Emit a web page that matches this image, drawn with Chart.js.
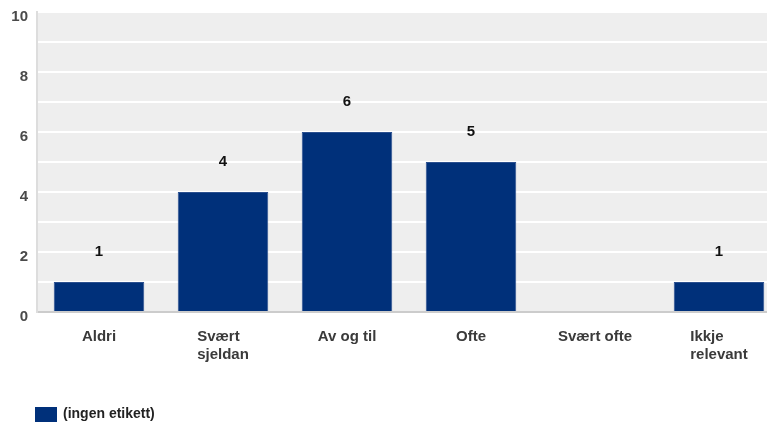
<!DOCTYPE html>
<html>
<head>
<meta charset="utf-8">
<script src="https://cdn.jsdelivr.net/npm/chart.js@4/dist/chart.umd.min.js"></script>
<style>
  html, body { margin: 0; padding: 0; background: #fff; overflow: hidden; }
  #wrap { width: 767px; height: 422px; overflow: hidden; }
  #box { width: 781px; height: 422px; position: relative; }
</style>
</head>
<body>
<div id="wrap"><div id="box"><canvas id="chart"></canvas></div></div>
<script>
// data
const categories = [['Aldri'], ['Svært', 'sjeldan'], ['Av og til'], ['Ofte'], ['Svært ofte'], ['Ikkje', 'relevant']];
const counts = [1, 4, 6, 5, 0, 1];
const seriesName = '(ingen etikett)';
const yTicks = [0, 2, 4, 6, 8, 10];

const BAR = '#00307a';
const FONT = '"Liberation Sans", Arial, sans-serif';

// grå bakgrunn i plottområdet
const plotBg = {
    id: 'plotBg',
    beforeDraw(chart) {
        const { ctx, chartArea: a } = chart;
        ctx.save();
        ctx.fillStyle = '#eeeeee';
        ctx.fillRect(a.left, a.top, a.right - a.left, a.bottom - a.top);
        ctx.restore();
    }
};

// verdier over stolpane, x-etikettar og forklaring
const barLabels = {
    id: 'barLabels',
    afterDatasetsDraw(chart) {
        const { ctx } = chart;
        const meta = chart.getDatasetMeta(0);
        ctx.save();
        ctx.font = 'bold 15px ' + FONT;
        ctx.fillStyle = '#111';
        ctx.textAlign = 'center';
        ctx.textBaseline = 'middle';
        meta.data.forEach((bar, i) => {
            if (!counts[i]) return;
            ctx.fillText(String(counts[i]), bar.x, bar.y - 30);
        });

        // x-etikettar: linjene venstrejusterte, blokka sentrert
        const xs = chart.scales.x;
        ctx.font = 'bold 15px ' + FONT;
        ctx.fillStyle = '#3a3a3a';
        ctx.textAlign = 'left';
        categories.forEach((lines, i) => {
            const cx = xs.getPixelForValue(i);
            const w = Math.max(...lines.map(l => ctx.measureText(l).width));
            lines.forEach((l, j) => {
                ctx.fillText(l, cx - w / 2, xs.top + 25 + j * 18);
            });
        });

        // forklaring nede til venstre
        const ly = 414;
        ctx.fillStyle = BAR;
        ctx.fillRect(35, ly - 7, 22, 15);
        ctx.font = 'bold 14px ' + FONT;
        ctx.fillStyle = '#222';
        ctx.fillText(seriesName, 63, ly);
        ctx.restore();
    }
};

new Chart(document.getElementById('chart'), {
    type: 'bar',
    data: {
        labels: categories,
        datasets: [{
            label: seriesName,
            data: counts,
            backgroundColor: BAR,
            borderColor: '#2a4f8f',
            borderWidth: 1,
            barPercentage: 0.73,
            categoryPercentage: 1
        }]
    },
    options: {
        responsive: true,
        maintainAspectRatio: false,
        animation: false,
        layout: { padding: { top: 12, right: 0, left: 0, bottom: 0 } },
        plugins: {
            legend: { display: false },
            tooltip: { enabled: false }
        },
        scales: {
            x: {
                grid: { display: false },
                border: { color: '#cccccc', width: 2 },
                ticks: { display: false },
                afterFit(scale) { scale.height = 110; }
            },
            y: {
                min: 0,
                max: 10,
                afterFit(scale) {
                    scale.width = 37;
                    scale.paddingTop = 0;
                    scale.paddingBottom = 0;
                },
                grid: { color: '#ffffff', lineWidth: 2, drawTicks: false },
                border: { color: '#dddddd', width: 2 },
                ticks: {
                    stepSize: 1,
                    padding: 9,
                    labelOffset: 5,
                    color: '#4a4a4a',
                    font: { family: FONT, size: 15, weight: 'bold' },
                    callback: v => (yTicks.includes(v) ? String(v) : '')
                }
            }
        }
    },
    plugins: [plotBg, barLabels]
});
</script>
</body>
</html>
